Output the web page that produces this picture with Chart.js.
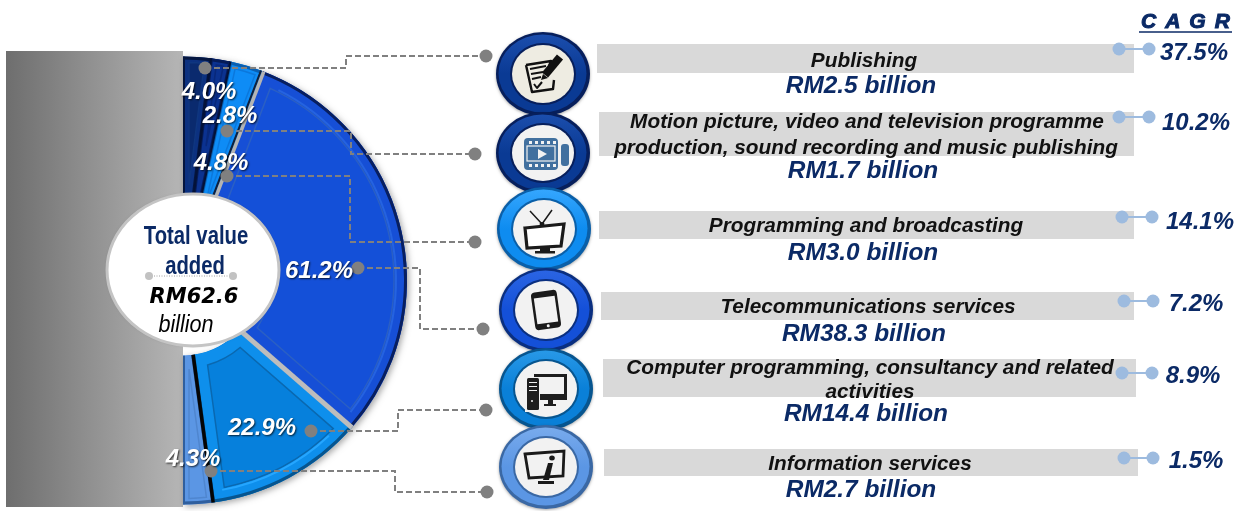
<!DOCTYPE html>
<html>
<head>
<meta charset="utf-8">
<title>Value added</title>
<script src="https://cdn.jsdelivr.net/npm/chart.js@4"></script>
<style>
  html, body { margin: 0; padding: 0; background: #fff; }
  canvas { display: block; }
</style>
</head>
<body>
<canvas id="chart" width="1243" height="511"></canvas>
<script>
const categories = [
  'Publishing',
  'Motion picture, video and television programme production, sound recording and music publishing',
  'Programming and broadcasting',
  'Telecommunications services',
  'Computer programming, consultancy and related activities',
  'Information services',
];
const sharePct = [4.0, 2.8, 4.8, 61.2, 22.9, 4.3];
const valueBillion = ['2.5', '1.7', '3.0', '38.3', '14.4', '2.7'];
const cagrPct = ['37.5', '10.2', '14.1', '7.2', '8.9', '1.5'];
const categoryLines = [
  ['Publishing'],
  ['Motion picture, video and television programme', 'production, sound recording and music publishing'],
  ['Programming and broadcasting'],
  ['Telecommunications services'],
  ['Computer programming, consultancy and related', 'activities'],
  ['Information services'],
];

const sliceColors = ['#0a2a6e', '#0b3290', '#0e8cf6', '#1450d8', '#0680dc', '#5b96e4'];
const sliceBands = ['#0c3180', '#0b3290', '#0e8cf6', '#164fd6', '#0e8fec', '#5b96e4'];
const sliceEdges = ['#05163f', '#061c58', '#0a5fb0', '#081f60', '#07558f', '#2f5f9e'];
const sliceInset = ['#0f367f', '#08287a', '#0b78dc', '#2a5fc4', '#0a68b0', '#4f86cf'];

// layout of everything around the pie
const FONT = '"Liberation Sans", Arial, sans-serif';
const NAVY = '#0b2a66';
const pctPos = [[209, 92], [230, 116], [221, 163], [319, 271], [262, 428], [193, 459]];
const bars = [
  { x0: 597, x1: 1134, y0: 44, y1: 73, textY: [61], cx: [864], valY: 86.5, valX: 861 },
  { x0: 599, x1: 1134, y0: 112, y1: 156, textY: [122, 148], cx: [867, 866], valY: 171.5, valX: 863 },
  { x0: 599, x1: 1134, y0: 211, y1: 239, textY: [226], cx: [866], valY: 253.5, valX: 863 },
  { x0: 601, x1: 1134, y0: 292, y1: 320, textY: [307], cx: [868], valY: 334.5, valX: 864 },
  { x0: 603, x1: 1136, y0: 359, y1: 397, textY: [368, 392], cx: [870, 870], valY: 414.5, valX: 866 },
  { x0: 604, x1: 1138, y0: 449, y1: 476, textY: [464], cx: [870], valY: 490.5, valX: 861 },
];
const cagrRows = [
  { y: 49, x0: 1119, x1: 1149, tx: 1194, ty: 53 },
  { y: 117, x0: 1119, x1: 1149, tx: 1196, ty: 123 },
  { y: 217, x0: 1122, x1: 1152, tx: 1200, ty: 222 },
  { y: 301, x0: 1124, x1: 1153, tx: 1196, ty: 304 },
  { y: 373, x0: 1122, x1: 1152, tx: 1193, ty: 376 },
  { y: 458, x0: 1124, x1: 1153, tx: 1196, ty: 461 },
];
const connectors = [
  [[205, 68], [346, 68], [346, 56], [486, 56]],
  [[227, 131], [351, 131], [351, 154], [475, 154]],
  [[227, 176], [350, 176], [350, 242], [475, 242]],
  [[358, 268], [420, 268], [420, 329], [483, 329]],
  [[311, 431], [398, 431], [398, 410], [486, 410]],
  [[211, 471], [395, 471], [395, 492], [487, 492]],
];
const badges = [
  { x: 543, y: 74, ry: 42, ring: '#0a3a94', light: '#1c4fae', edge: '#071f5c', disc: '#eeece2' },
  { x: 543, y: 153, ry: 41, ring: '#0a3a94', light: '#1c4fae', edge: '#071f5c', disc: '#f2f2f2' },
  { x: 544, y: 229, ry: 42, ring: '#0e8cf0', light: '#37a8ff', edge: '#0a5fa8', disc: '#f2f2f2' },
  { x: 546, y: 310, ry: 42, ring: '#1450d8', light: '#2c66e4', edge: '#0a2f80', disc: '#f2f2f2' },
  { x: 546, y: 389, ry: 41, ring: '#0a80d8', light: '#2a9ae8', edge: '#07558f', disc: '#f2f2f2' },
  { x: 546, y: 467, ry: 42, ring: '#5b96e4', light: '#7aaced', edge: '#3a68a4', disc: '#f2f2f2' },
];

function ellipse(ctx, x, y, rx, ry) {
  ctx.beginPath();
  ctx.ellipse(x, y, rx, ry, 0, 0, Math.PI * 2);
}

function text(ctx, str, x, y, font, color, align) {
  ctx.font = font;
  ctx.fillStyle = color;
  ctx.textAlign = align || 'center';
  ctx.textBaseline = 'middle';
  ctx.fillText(str, x, y);
}

// no narrow font installed, so squeeze the regular one
function narrowText(ctx, str, x, y, font, color, sx) {
  ctx.save();
  ctx.translate(x, y);
  ctx.scale(sx, 1);
  text(ctx, str, 0, 0, font, color);
  ctx.restore();
}

function sectorPath(ctx, el) {
  ctx.beginPath();
  ctx.arc(el.x, el.y, el.outerRadius, el.startAngle, el.endAngle);
  ctx.arc(el.x, el.y, el.innerRadius, el.endAngle, el.startAngle, true);
  ctx.closePath();
}

// polar point shifted sideways, keeps the bevel parallel to the slice edge
function insetPath(ctx, el, d) {
  const half = (el.endAngle - el.startAngle) / 2;
  const mid = el.startAngle + half;
  const R = el.outerRadius - d;
  const inner = Math.max(el.innerRadius + d, d / Math.sin(half));
  if (inner >= R) return false;
  const aR = half - Math.asin(d / R);
  const aI = half - Math.asin(Math.min(1, d / inner));
  ctx.beginPath();
  ctx.arc(el.x, el.y, R, mid - aR, mid + aR);
  ctx.arc(el.x, el.y, inner, mid + aI, mid - aI, true);
  ctx.closePath();
  return true;
}

function radialLine(ctx, el, angle, shift, color, width) {
  const cos = Math.cos(angle);
  const sin = Math.sin(angle);
  ctx.beginPath();
  ctx.moveTo(el.x + cos * el.innerRadius - sin * shift, el.y + sin * el.innerRadius + cos * shift);
  ctx.lineTo(el.x + cos * el.outerRadius - sin * shift, el.y + sin * el.outerRadius + cos * shift);
  ctx.strokeStyle = color;
  ctx.lineWidth = width;
  ctx.stroke();
}

const pieDecor = {
  id: 'pieDecor',
  beforeDatasetsDraw(chart) {
    const { ctx } = chart;
    const g = ctx.createLinearGradient(6, 0, 183, 0);
    g.addColorStop(0, '#6e6e6e');
    g.addColorStop(1, '#b6b6b6');
    ctx.fillStyle = g;
    ctx.fillRect(6, 51, 177, 456);
    ctx.save();
    ctx.shadowColor = 'rgba(0,0,0,0.35)';
    ctx.shadowBlur = 6;
    ctx.shadowOffsetX = 2;
    ctx.shadowOffsetY = 2;
  },
  afterDatasetsDraw(chart) {
    const { ctx } = chart;
    ctx.restore();
    const arcs = chart.getDatasetMeta(0).data;

    arcs.forEach((el, i) => {
      ctx.save();
      sectorPath(ctx, el);
      ctx.clip();
      ctx.fillStyle = sliceBands[i];
      ctx.fill();
      // bevel
      const d = i === 3 || i === 4 ? 13 : 6;
      if (insetPath(ctx, el, d)) {
        ctx.fillStyle = sliceColors[i];
        ctx.fill();
        ctx.strokeStyle = sliceInset[i];
        ctx.lineWidth = 1.5;
        ctx.stroke();
      }
      if (i === 3 || i === 4) {
        ctx.beginPath();
        ctx.arc(el.x, el.y, el.outerRadius - 11, el.startAngle + 0.1, el.endAngle - 0.05);
        ctx.strokeStyle = i === 3 ? '#2563e0' : '#25a6ff';
        ctx.lineWidth = 2;
        ctx.stroke();
      }
      // rim
      ctx.beginPath();
      ctx.arc(el.x, el.y, el.outerRadius - 1, el.startAngle, el.endAngle);
      ctx.strokeStyle = sliceEdges[i];
      ctx.lineWidth = 4;
      ctx.stroke();
      radialLine(ctx, el, el.startAngle, 1, sliceEdges[i], 2);
      radialLine(ctx, el, el.endAngle, -1, sliceEdges[i], 2);
      ctx.restore();
    });

    // separators between slices
    radialLine(ctx, arcs[0], arcs[0].endAngle, 0, '#041238', 2);
    radialLine(ctx, arcs[1], arcs[1].endAngle, 0, '#041238', 2);
    radialLine(ctx, arcs[2], arcs[2].endAngle, -2, '#10203c', 2);
    radialLine(ctx, arcs[3], arcs[3].startAngle, 1, '#b4b4b4', 3.5);
    radialLine(ctx, arcs[3], arcs[3].endAngle, 0, '#bdbdbd', 5);
    radialLine(ctx, arcs[5], arcs[5].startAngle, 0, '#050505', 3.5);

    // centre disc
    ctx.save();
    ctx.shadowColor = 'rgba(0,0,0,0.25)';
    ctx.shadowBlur = 3;
    ellipse(ctx, 193, 270, 86, 76);
    ctx.fillStyle = '#fff';
    ctx.fill();
    ctx.restore();
    ctx.strokeStyle = '#c4c4c4';
    ctx.lineWidth = 3;
    ctx.stroke();

    narrowText(ctx, 'Total value', 196, 237, 'bold 26px ' + FONT, NAVY, 0.78);
    narrowText(ctx, 'added', 195, 267, 'bold 26px ' + FONT, NAVY, 0.78);
    ctx.beginPath();
    ctx.setLineDash([1, 1.5]);
    ctx.moveTo(149, 276);
    ctx.lineTo(233, 276);
    ctx.strokeStyle = '#a0a0a0';
    ctx.lineWidth = 1;
    ctx.stroke();
    ctx.setLineDash([]);
    [149, 233].forEach((x) => {
      ellipse(ctx, x, 276, 4, 4);
      ctx.fillStyle = '#c2c2c2';
      ctx.fill();
    });
    text(ctx, 'RM62.6', 194, 298, 'italic bold 21px "DejaVu Sans", sans-serif', '#000');
    narrowText(ctx, 'billion', 186, 325, 'italic 24px ' + FONT, '#000', 0.9);

    drawBadges(ctx);
    drawConnectors(ctx);
    drawLabels(ctx);
    drawCagr(ctx);
  },
};

function drawConnectors(ctx) {
  connectors.forEach((pts) => {
    ctx.beginPath();
    pts.forEach((p, i) => (i ? ctx.lineTo(p[0], p[1]) : ctx.moveTo(p[0], p[1])));
    ctx.setLineDash([6, 3]);
    ctx.strokeStyle = '#808080';
    ctx.lineWidth = 2;
    ctx.stroke();
    ctx.setLineDash([]);
    [pts[0], pts[pts.length - 1]].forEach((p) => {
      ellipse(ctx, p[0], p[1], 6.5, 6.5);
      ctx.fillStyle = '#808080';
      ctx.fill();
    });
  });
}

function drawLabels(ctx) {
  // percentages on the pie
  ctx.save();
  ctx.shadowColor = 'rgba(0,0,0,0.75)';
  ctx.shadowBlur = 2;
  ctx.shadowOffsetX = 1;
  ctx.shadowOffsetY = 1;
  sharePct.forEach((v, i) => {
    text(ctx, v.toFixed(1) + '%', pctPos[i][0], pctPos[i][1], 'italic bold 24px ' + FONT, '#fff');
  });
  ctx.restore();

  bars.forEach((b, i) => {
    ctx.fillStyle = '#d9d9d9';
    ctx.fillRect(b.x0, b.y0, b.x1 - b.x0, b.y1 - b.y0);
    categoryLines[i].forEach((line, j) => {
      text(ctx, line, b.cx[j], b.textY[j], 'italic bold 20.8px ' + FONT, '#111');
    });
    text(ctx, 'RM' + valueBillion[i] + ' billion', b.valX, b.valY, 'italic bold 24.4px ' + FONT, NAVY);
  });
}

function drawCagr(ctx) {
  ctx.save();
  ctx.font = 'italic bold 21px ' + FONT;
  ctx.letterSpacing = '9px';
  ctx.fillStyle = NAVY;
  ctx.textAlign = 'left';
  ctx.textBaseline = 'middle';
  ctx.lineWidth = 1;
  ctx.strokeStyle = NAVY;
  ctx.fillText('CAGR', 1141, 22);
  ctx.strokeText('CAGR', 1141, 22);
  ctx.restore();
  ctx.beginPath();
  ctx.moveTo(1139, 32);
  ctx.lineTo(1232, 32);
  ctx.strokeStyle = NAVY;
  ctx.lineWidth = 1.5;
  ctx.stroke();

  cagrRows.forEach((r, i) => {
    ctx.beginPath();
    ctx.moveTo(r.x0, r.y);
    ctx.lineTo(r.x1, r.y);
    ctx.strokeStyle = '#9dbbdf';
    ctx.lineWidth = 2;
    ctx.stroke();
    [r.x0, r.x1].forEach((x) => {
      ellipse(ctx, x, r.y, 6.5, 6.5);
      ctx.fillStyle = '#9dbbdf';
      ctx.fill();
    });
    text(ctx, cagrPct[i] + '%', r.tx, r.ty, 'italic bold 24px ' + FONT, NAVY);
  });
}

function drawBadges(ctx) {
  badges.forEach((b, i) => {
    ctx.save();
    ctx.shadowColor = 'rgba(0,0,0,0.35)';
    ctx.shadowBlur = 3;
    ctx.shadowOffsetY = 1;
    ellipse(ctx, b.x, b.y, 47, b.ry);
    ctx.fillStyle = b.edge;
    ctx.fill();
    ctx.restore();

    const g = ctx.createLinearGradient(0, b.y - b.ry, 0, b.y + b.ry);
    g.addColorStop(0, b.light);
    g.addColorStop(0.5, b.ring);
    g.addColorStop(1, b.ring);
    ellipse(ctx, b.x - 0.5, b.y - 0.5, 44, b.ry - 3);
    ctx.fillStyle = g;
    ctx.fill();
    ellipse(ctx, b.x, b.y, 33, b.ry - 11);
    ctx.fillStyle = b.edge;
    ctx.fill();
    ellipse(ctx, b.x, b.y, 31, b.ry - 13);
    ctx.fillStyle = b.disc;
    ctx.fill();

    ctx.save();
    ctx.translate(b.x, b.y);
    icons[i](ctx);
    ctx.restore();
  });
}

function roundBox(ctx, x, y, w, h, r) {
  ctx.beginPath();
  ctx.roundRect(x, y, w, h, r);
}

const icons = [
  // notepad and pencil
  (ctx) => {
    ctx.strokeStyle = '#111';
    ctx.lineWidth = 2.4;
    ctx.lineJoin = 'round';
    ctx.beginPath();
    ctx.moveTo(-17, -9);
    ctx.lineTo(8, -13);
    ctx.lineTo(6, -8);
    ctx.moveTo(-17, -9);
    ctx.lineTo(-11, 18);
    ctx.lineTo(10, 15);
    ctx.lineTo(11, 6);
    ctx.stroke();
    ctx.lineWidth = 2;
    ctx.beginPath();
    [[-13, -5, 3, -8], [-12, 0, 0, -2], [-11, 5, -2, 3]].forEach((l) => {
      ctx.moveTo(l[0], l[1]);
      ctx.lineTo(l[2], l[3]);
    });
    ctx.moveTo(-9, 10);
    ctx.lineTo(-6, 14);
    ctx.lineTo(-1, 8);
    ctx.stroke();
    ctx.beginPath();
    ctx.moveTo(17, -17);
    ctx.lineTo(2, 1);
    ctx.lineWidth = 8;
    ctx.stroke();
    ctx.beginPath();
    ctx.moveTo(-2, 6);
    ctx.lineTo(5, 4);
    ctx.lineTo(0, 0);
    ctx.closePath();
    ctx.fillStyle = '#111';
    ctx.fill();
  },
  // film camera
  (ctx) => {
    const blue = '#41709f';
    roundBox(ctx, -19, -15, 34, 32, 4);
    ctx.fillStyle = blue;
    ctx.fill();
    roundBox(ctx, 18, -9, 8, 22, 3);
    ctx.fill();
    ctx.fillStyle = '#f2f2f2';
    for (let k = 0; k < 5; k++) {
      ctx.fillRect(-14 + k * 6, -12, 3, 3);
      ctx.fillRect(-14 + k * 6, 11, 3, 3);
    }
    ctx.strokeStyle = '#f2f2f2';
    ctx.lineWidth = 1.2;
    ctx.strokeRect(-16, -7, 28, 15);
    ctx.beginPath();
    ctx.moveTo(-5, -4);
    ctx.lineTo(4, 1);
    ctx.lineTo(-5, 6);
    ctx.closePath();
    ctx.fill();
  },
  // television
  (ctx) => {
    ctx.strokeStyle = '#1a1a1a';
    ctx.lineWidth = 1.5;
    ctx.beginPath();
    ctx.moveTo(-2, -5);
    ctx.lineTo(-14, -18);
    ctx.moveTo(-2, -5);
    ctx.lineTo(8, -19);
    ctx.stroke();
    ctx.beginPath();
    ctx.moveTo(-19, -1);
    ctx.lineTo(20, -5);
    ctx.lineTo(17, 17);
    ctx.lineTo(-17, 19);
    ctx.closePath();
    ctx.fillStyle = '#fff';
    ctx.fill();
    ctx.lineWidth = 3.2;
    ctx.stroke();
    ctx.fillStyle = '#1a1a1a';
    ctx.fillRect(-4, 19, 10, 3);
    ctx.fillRect(-9, 22, 20, 2.5);
    ellipse(ctx, -2, -5, 2.5, 2);
    ctx.fill();
  },
  // phone
  (ctx) => {
    ctx.rotate(-0.14);
    roundBox(ctx, -13, -19, 26, 38, 4);
    ctx.fillStyle = '#1a1a1a';
    ctx.fill();
    ctx.fillStyle = '#f2f2f2';
    ctx.fillRect(-10.5, -13, 21, 26);
    ellipse(ctx, 0, 16, 1.5, 1.5);
    ctx.fill();
  },
  // desktop computer
  (ctx) => {
    ctx.fillStyle = '#1e1e1e';
    ctx.fillRect(-12, -15, 33, 26);
    ctx.fillStyle = '#f2f2f2';
    ctx.fillRect(-9, -12, 27, 17);
    ctx.fillStyle = '#1e1e1e';
    ctx.fillRect(2, 11, 5, 4);
    ctx.fillRect(-2, 15, 12, 2);
    ctx.fillStyle = '#f2f2f2';
    ctx.fillRect(-21, -12, 15, 35);
    ctx.fillStyle = '#1e1e1e';
    roundBox(ctx, -19, -11, 12, 32, 1.5);
    ctx.fill();
    ctx.fillStyle = '#f2f2f2';
    ctx.fillRect(-17, -7, 8, 1);
    ctx.fillRect(-17, -3, 8, 1);
    ctx.fillRect(-17, 1, 8, 1);
    ellipse(ctx, -14, 12, 1, 1);
    ctx.fill();
  },
  // monitor with the letter i
  (ctx) => {
    ctx.strokeStyle = '#1a1a1a';
    ctx.lineWidth = 2.8;
    ctx.beginPath();
    ctx.moveTo(-21, -13);
    ctx.lineTo(18, -16);
    ctx.lineTo(17, 9);
    ctx.lineTo(-17, 11);
    ctx.closePath();
    ctx.stroke();
    ctx.fillStyle = '#1a1a1a';
    ctx.beginPath();
    ctx.moveTo(2, -4);
    ctx.lineTo(7, -4);
    ctx.lineTo(3, 13);
    ctx.lineTo(-3, 13);
    ctx.closePath();
    ctx.fill();
    ellipse(ctx, 6, -9, 2.8, 2.5);
    ctx.fill();
    ctx.fillRect(-8, 14, 16, 3);
  },
];

const chart = new Chart(document.getElementById('chart'), {
  type: 'doughnut',
  data: {
    labels: categories,
    datasets: [{
      data: sharePct,
      backgroundColor: sliceColors,
      borderWidth: 0,
    }],
  },
  options: {
    responsive: false,
    animation: false,
    rotation: 0,
    circumference: 180,
    cutout: '33.5%',
    layout: { padding: { left: 183, right: 836, top: 56.5, bottom: 6.5 } },
    plugins: {
      legend: { display: false },
      title: { display: false },
      tooltip: { enabled: false },
    },
  },
  plugins: [pieDecor],
});
</script>
</body>
</html>
